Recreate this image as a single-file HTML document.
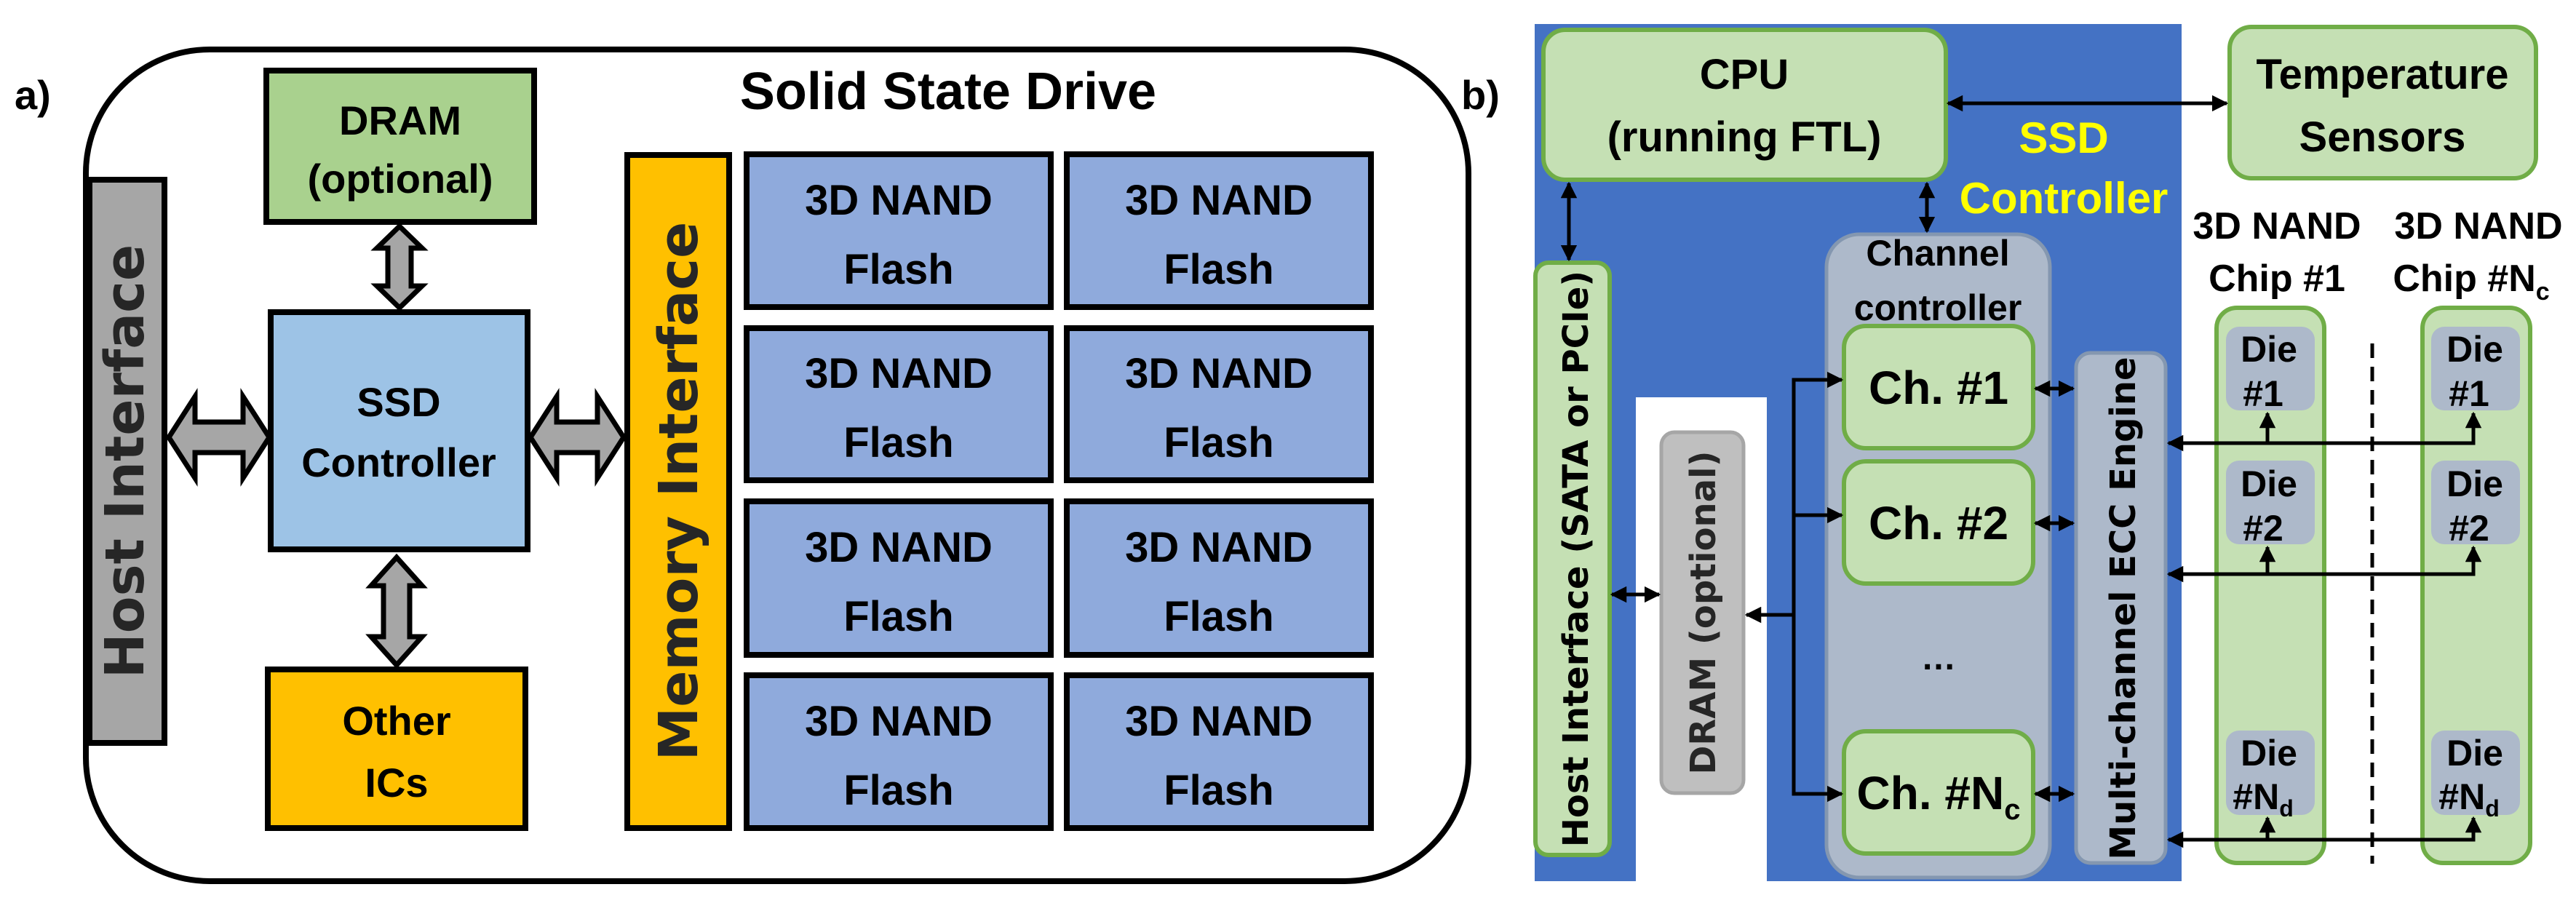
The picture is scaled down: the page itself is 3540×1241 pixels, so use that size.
<!DOCTYPE html>
<html><head><meta charset="utf-8"><style>
html,body{margin:0;padding:0;background:#fff;}
svg{display:block;}
text{font-family:"Liberation Sans",sans-serif;font-weight:bold;}
.w{font-family:"DejaVu Sans","Liberation Sans",sans-serif;font-weight:bold;}
</style></head><body>
<svg width="3540" height="1241" viewBox="0 0 3540 1241" xmlns="http://www.w3.org/2000/svg">
<defs>
<marker id="ah" viewBox="0 0 10 10" refX="9" refY="5" markerWidth="4.5" markerHeight="4.5" orient="auto-start-reverse"><path d="M0,0 L10,5 L0,10 z" fill="#000"/></marker>
</defs>
<text x="20" y="150" font-size="56" font-weight="normal">a)</text>
<rect x="118" y="68" width="1900" height="1143" rx="170" fill="#fff" stroke="#000" stroke-width="8"/>
<text x="1303" y="150" font-size="72" text-anchor="middle">Solid State Drive</text>
<rect x="123" y="247" width="103" height="774" fill="#a6a6a6" stroke="#000" stroke-width="8"/>
<text class="w" transform="translate(197,634) rotate(-90)" font-size="74" text-anchor="middle" fill="#262626">Host Interface</text>
<rect x="366" y="97" width="368" height="208" fill="#a9d18e" stroke="#000" stroke-width="8"/>
<text x="550" y="185" font-size="56" text-anchor="middle">DRAM</text>
<text x="550" y="265" font-size="56" text-anchor="middle">(optional)</text>
<rect x="372" y="429" width="353" height="326" fill="#9dc3e6" stroke="#000" stroke-width="8"/>
<text x="548" y="572" font-size="56" text-anchor="middle">SSD</text>
<text x="548" y="655" font-size="56" text-anchor="middle">Controller</text>
<rect x="368" y="920" width="354" height="218" fill="#ffc000" stroke="#000" stroke-width="8"/>
<text x="545" y="1010" font-size="56" text-anchor="middle">Other</text>
<text x="545" y="1095" font-size="56" text-anchor="middle">ICs</text>
<rect x="862" y="213" width="140" height="925" fill="#ffc000" stroke="#000" stroke-width="8"/>
<text class="w" transform="translate(958,675) rotate(-90)" font-size="74" text-anchor="middle" fill="#262626">Memory Interface</text>
<g fill="#8faadc" stroke="#000" stroke-width="8">
<rect x="1026" y="212" width="418" height="210"/><rect x="1466" y="212" width="418" height="210"/>
<rect x="1026" y="451" width="418" height="209"/><rect x="1466" y="451" width="418" height="209"/>
<rect x="1026" y="689" width="418" height="211"/><rect x="1466" y="689" width="418" height="211"/>
<rect x="1026" y="928" width="418" height="210"/><rect x="1466" y="928" width="418" height="210"/>
</g>
<g font-size="58" text-anchor="middle">
<text x="1235" y="295">3D NAND</text><text x="1235" y="390">Flash</text>
<text x="1675" y="295">3D NAND</text><text x="1675" y="390">Flash</text>
<text x="1235" y="533">3D NAND</text><text x="1235" y="628">Flash</text>
<text x="1675" y="533">3D NAND</text><text x="1675" y="628">Flash</text>
<text x="1235" y="772">3D NAND</text><text x="1235" y="867">Flash</text>
<text x="1675" y="772">3D NAND</text><text x="1675" y="867">Flash</text>
<text x="1235" y="1011">3D NAND</text><text x="1235" y="1106">Flash</text>
<text x="1675" y="1011">3D NAND</text><text x="1675" y="1106">Flash</text>
</g>
<g fill="#a6a6a6" stroke="#000" stroke-width="7" stroke-linejoin="miter">
<polygon points="232,601 268,545 268,580 334,580 334,545 370,601 334,657 334,622 268,622 268,657"/>
<polygon points="729,601 765,545 765,580 821,580 821,545 857,601 821,657 821,622 765,622 765,657"/>
<polygon points="549,311 580,341 565,341 565,393 580,393 549,423 518,393 533,393 533,341 518,341"/>
<polygon points="545,766 580,805 563,805 563,875 580,875 545,914 510,875 527,875 527,805 510,805"/>
</g>
<text x="2008" y="150" font-size="56">b)</text>
<rect x="2109" y="33" width="889" height="1178" fill="#4472c4"/>
<rect x="2248" y="546" width="180" height="665" fill="#fff"/>
<g fill="#c5e0b4" stroke="#70ad47" stroke-width="6">
<rect x="2121" y="41" width="553" height="206" rx="30"/>
<rect x="3064" y="37" width="421" height="208" rx="30"/>
<rect x="2110" y="361" width="102" height="814" rx="18"/>
</g>
<text x="2397" y="122" font-size="58" text-anchor="middle">CPU</text>
<text x="2397" y="208" font-size="58" text-anchor="middle">(running FTL)</text>
<text x="3274" y="122" font-size="58" text-anchor="middle">Temperature</text>
<text x="3274" y="208" font-size="58" text-anchor="middle">Sensors</text>
<text x="2836" y="210" font-size="60" text-anchor="middle" fill="#ffff00">SSD</text>
<text x="2836" y="293" font-size="60" text-anchor="middle" fill="#ffff00">Controller</text>
<text class="w" transform="translate(2182,768) rotate(-90)" font-size="48" text-anchor="middle">Host Interface  (SATA or PCIe)</text>
<rect x="2283" y="594" width="113" height="496" rx="18" fill="#bfbfbf" stroke="#a6a6a6" stroke-width="5"/>
<text class="w" transform="translate(2357,842) rotate(-90)" font-size="48" text-anchor="middle" fill="#262626">DRAM (optional)</text>
<rect x="2510" y="322" width="307" height="884" rx="45" fill="#adb9ca" stroke="#8497b0" stroke-width="5"/>
<text x="2663" y="365" font-size="50" text-anchor="middle">Channel</text>
<text x="2663" y="440" font-size="50" text-anchor="middle">controller</text>
<g fill="#c5e0b4" stroke="#70ad47" stroke-width="6">
<rect x="2534" y="448" width="260" height="168" rx="30"/>
<rect x="2534" y="634" width="260" height="168" rx="30"/>
<rect x="2534" y="1005" width="260" height="168" rx="30"/>
</g>
<text x="2664" y="555" font-size="64" text-anchor="middle">Ch. #1</text>
<text x="2664" y="741" font-size="64" text-anchor="middle">Ch. #2</text>
<text x="2664" y="1112" font-size="64" text-anchor="middle">Ch. #N<tspan font-size="40" dy="14">c</tspan></text>
<text x="2664" y="920" font-size="48" text-anchor="middle">…</text>
<rect x="2853" y="485" width="123" height="701" rx="20" fill="#adb9ca" stroke="#8497b0" stroke-width="5"/>
<text class="w" transform="translate(2934,836) rotate(-90)" font-size="48" text-anchor="middle">Multi-channel ECC Engine</text>
<text x="3129" y="328" font-size="52" text-anchor="middle">3D NAND</text>
<text x="3129" y="400" font-size="52" text-anchor="middle">Chip #1</text>
<text x="3406" y="328" font-size="52" text-anchor="middle">3D NAND</text>
<text x="3396" y="400" font-size="52" text-anchor="middle">Chip #N<tspan font-size="34" dy="12">c</tspan></text>
<g fill="#c5e0b4" stroke="#70ad47" stroke-width="6">
<rect x="3046" y="423" width="148" height="763" rx="28"/>
<rect x="3329" y="423" width="148" height="763" rx="28"/>
</g>
<g fill="#adb9ca">
<rect x="3059" y="449" width="122" height="115" rx="18"/><rect x="3341" y="449" width="122" height="115" rx="18"/>
<rect x="3059" y="633" width="122" height="115" rx="18"/><rect x="3341" y="633" width="122" height="115" rx="18"/>
<rect x="3059" y="1004" width="122" height="116" rx="18"/><rect x="3341" y="1004" width="122" height="116" rx="18"/>
</g>
<g font-size="50" text-anchor="middle">
<text x="3118" y="497">Die</text><text x="3110" y="558">#1</text>
<text x="3401" y="497">Die</text><text x="3393" y="558">#1</text>
<text x="3118" y="682">Die</text><text x="3110" y="743">#2</text>
<text x="3401" y="682">Die</text><text x="3393" y="743">#2</text>
<text x="3118" y="1052">Die</text><text x="3110" y="1112">#N<tspan font-size="32" dy="10">d</tspan></text>
<text x="3401" y="1052">Die</text><text x="3393" y="1112">#N<tspan font-size="32" dy="10">d</tspan></text>
</g>
<line x1="3260" y1="472" x2="3260" y2="1187" stroke="#000" stroke-width="5" stroke-dasharray="20,12"/>
<g stroke="#000" stroke-width="5" fill="none">
<line x1="2677" y1="142" x2="3060" y2="142" marker-start="url(#ah)" marker-end="url(#ah)"/>
<line x1="2156" y1="252" x2="2156" y2="357" marker-start="url(#ah)" marker-end="url(#ah)"/>
<line x1="2648" y1="252" x2="2648" y2="318" marker-start="url(#ah)" marker-end="url(#ah)"/>
<line x1="2215" y1="817" x2="2280" y2="817" marker-start="url(#ah)" marker-end="url(#ah)"/>
<polyline points="2531,522 2465,522 2465,1091 2531,1091" marker-start="url(#ah)" marker-end="url(#ah)"/>
<line x1="2465" y1="708" x2="2531" y2="708" marker-end="url(#ah)"/>
<line x1="2465" y1="845" x2="2400" y2="845" marker-end="url(#ah)"/>
<line x1="2797" y1="534" x2="2849" y2="534" marker-start="url(#ah)" marker-end="url(#ah)"/>
<line x1="2797" y1="719" x2="2849" y2="719" marker-start="url(#ah)" marker-end="url(#ah)"/>
<line x1="2797" y1="1091" x2="2849" y2="1091" marker-start="url(#ah)" marker-end="url(#ah)"/>
<polyline points="2980,609 3399,609 3399,568" marker-start="url(#ah)" marker-end="url(#ah)"/>
<line x1="3116" y1="609" x2="3116" y2="568" marker-end="url(#ah)"/>
<polyline points="2980,789 3399,789 3399,752" marker-start="url(#ah)" marker-end="url(#ah)"/>
<line x1="3116" y1="789" x2="3116" y2="752" marker-end="url(#ah)"/>
<polyline points="2980,1154 3399,1154 3399,1124" marker-start="url(#ah)" marker-end="url(#ah)"/>
<line x1="3116" y1="1154" x2="3116" y2="1124" marker-end="url(#ah)"/>
</g>
</svg>
</body></html>
